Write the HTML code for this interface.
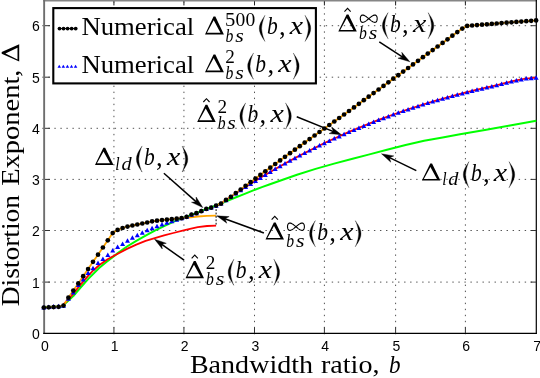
<!DOCTYPE html>
<html><head><meta charset="utf-8"><title>plot</title>
<style>html,body{margin:0;padding:0;background:#fff;overflow:hidden}svg{display:block;will-change:transform}text{fill:#000}</style></head>
<body>
<svg width="540" height="378" viewBox="0 0 540 378">
<rect width="540" height="378" fill="#fff"/>
<line x1="113.93" y1="334.26" x2="113.93" y2="1" stroke="#333" stroke-width="0.85" stroke-dasharray="1.4 4.63"/>
<line x1="42.3" y1="282.10" x2="536.5" y2="282.10" stroke="#333" stroke-width="0.85" stroke-dasharray="1.4 4.63"/>
<line x1="183.93" y1="334.26" x2="183.93" y2="1" stroke="#333" stroke-width="0.85" stroke-dasharray="1.4 4.63"/>
<line x1="42.3" y1="230.50" x2="536.5" y2="230.50" stroke="#333" stroke-width="0.85" stroke-dasharray="1.4 4.63"/>
<line x1="254.50" y1="334.26" x2="254.50" y2="1" stroke="#333" stroke-width="0.85" stroke-dasharray="1.4 4.63"/>
<line x1="42.3" y1="179.40" x2="536.5" y2="179.40" stroke="#333" stroke-width="0.85" stroke-dasharray="1.4 4.63"/>
<line x1="324.40" y1="334.26" x2="324.40" y2="1" stroke="#333" stroke-width="0.85" stroke-dasharray="1.4 4.63"/>
<line x1="42.3" y1="128.30" x2="536.5" y2="128.30" stroke="#333" stroke-width="0.85" stroke-dasharray="1.4 4.63"/>
<line x1="395.60" y1="334.26" x2="395.60" y2="1" stroke="#333" stroke-width="0.85" stroke-dasharray="1.4 4.63"/>
<line x1="42.3" y1="77.20" x2="536.5" y2="77.20" stroke="#333" stroke-width="0.85" stroke-dasharray="1.4 4.63"/>
<line x1="465.40" y1="334.26" x2="465.40" y2="1" stroke="#333" stroke-width="0.85" stroke-dasharray="1.4 4.63"/>
<line x1="42.3" y1="25.70" x2="536.5" y2="25.70" stroke="#333" stroke-width="0.85" stroke-dasharray="1.4 4.63"/>
<line x1="43.2" y1="0.7" x2="537" y2="0.7" stroke="#868686" stroke-width="1.6"/>
<line x1="44.15" y1="0" x2="44.15" y2="333.8" stroke="#6e6e6e" stroke-width="1.9"/>
<line x1="43.2" y1="333.3" x2="536.9" y2="333.3" stroke="#000" stroke-width="1.25"/>
<line x1="536.3" y1="0" x2="536.3" y2="333.9" stroke="#000" stroke-width="1.2"/>
<line x1="113.93" y1="333" x2="113.93" y2="327.3" stroke="#333" stroke-width="1"/>
<line x1="113.93" y1="1.4" x2="113.93" y2="5.4" stroke="#222" stroke-width="1"/>
<line x1="45" y1="282.10" x2="50" y2="282.10" stroke="#333" stroke-width="1"/>
<line x1="536" y1="282.10" x2="530.6" y2="282.10" stroke="#333" stroke-width="1"/>
<line x1="183.93" y1="333" x2="183.93" y2="327.3" stroke="#333" stroke-width="1"/>
<line x1="183.93" y1="1.4" x2="183.93" y2="5.4" stroke="#222" stroke-width="1"/>
<line x1="45" y1="230.50" x2="50" y2="230.50" stroke="#333" stroke-width="1"/>
<line x1="536" y1="230.50" x2="530.6" y2="230.50" stroke="#333" stroke-width="1"/>
<line x1="254.50" y1="333" x2="254.50" y2="327.3" stroke="#333" stroke-width="1"/>
<line x1="254.50" y1="1.4" x2="254.50" y2="5.4" stroke="#222" stroke-width="1"/>
<line x1="45" y1="179.40" x2="50" y2="179.40" stroke="#333" stroke-width="1"/>
<line x1="536" y1="179.40" x2="530.6" y2="179.40" stroke="#333" stroke-width="1"/>
<line x1="324.40" y1="333" x2="324.40" y2="327.3" stroke="#333" stroke-width="1"/>
<line x1="324.40" y1="1.4" x2="324.40" y2="5.4" stroke="#222" stroke-width="1"/>
<line x1="45" y1="128.30" x2="50" y2="128.30" stroke="#333" stroke-width="1"/>
<line x1="536" y1="128.30" x2="530.6" y2="128.30" stroke="#333" stroke-width="1"/>
<line x1="395.60" y1="333" x2="395.60" y2="327.3" stroke="#333" stroke-width="1"/>
<line x1="395.60" y1="1.4" x2="395.60" y2="5.4" stroke="#222" stroke-width="1"/>
<line x1="45" y1="77.20" x2="50" y2="77.20" stroke="#333" stroke-width="1"/>
<line x1="536" y1="77.20" x2="530.6" y2="77.20" stroke="#333" stroke-width="1"/>
<line x1="465.40" y1="333" x2="465.40" y2="327.3" stroke="#333" stroke-width="1"/>
<line x1="465.40" y1="1.4" x2="465.40" y2="5.4" stroke="#222" stroke-width="1"/>
<line x1="45" y1="25.70" x2="50" y2="25.70" stroke="#333" stroke-width="1"/>
<line x1="536" y1="25.70" x2="530.6" y2="25.70" stroke="#333" stroke-width="1"/>
<text x="45.00" y="351.0" font-family="Liberation Sans, sans-serif" font-size="14" text-anchor="middle">0</text>
<text x="114.73" y="351.0" font-family="Liberation Sans, sans-serif" font-size="14" text-anchor="middle">1</text>
<text x="184.73" y="351.0" font-family="Liberation Sans, sans-serif" font-size="14" text-anchor="middle">2</text>
<text x="255.30" y="351.0" font-family="Liberation Sans, sans-serif" font-size="14" text-anchor="middle">3</text>
<text x="325.20" y="351.0" font-family="Liberation Sans, sans-serif" font-size="14" text-anchor="middle">4</text>
<text x="396.40" y="351.0" font-family="Liberation Sans, sans-serif" font-size="14" text-anchor="middle">5</text>
<text x="466.20" y="351.0" font-family="Liberation Sans, sans-serif" font-size="14" text-anchor="middle">6</text>
<text x="537.10" y="351.0" font-family="Liberation Sans, sans-serif" font-size="14" text-anchor="middle">7</text>
<text x="39.8" y="338.80" font-family="Liberation Sans, sans-serif" font-size="14" text-anchor="end">0</text>
<text x="39.8" y="287.60" font-family="Liberation Sans, sans-serif" font-size="14" text-anchor="end">1</text>
<text x="39.8" y="236.00" font-family="Liberation Sans, sans-serif" font-size="14" text-anchor="end">2</text>
<text x="39.8" y="184.90" font-family="Liberation Sans, sans-serif" font-size="14" text-anchor="end">3</text>
<text x="39.8" y="133.80" font-family="Liberation Sans, sans-serif" font-size="14" text-anchor="end">4</text>
<text x="39.8" y="82.70" font-family="Liberation Sans, sans-serif" font-size="14" text-anchor="end">5</text>
<text x="39.8" y="31.20" font-family="Liberation Sans, sans-serif" font-size="14" text-anchor="end">6</text>
<path d="M43.6 307.4 L61.5 306.6 L64.0 304.5 L68.0 301.0 L73.3 296.1 L78.0 290.5 L88.3 278.9 L99.4 267.8 L106.1 262.2 L114.0 256.3 L117.8 253.0 L127.0 246.5 L136.3 240.9 L145.6 235.7 L154.8 230.7 L164.1 226.1 L173.3 221.9 L182.6 218.1 L190.0 215.4 L195.9 213.3 L201.1 211.1 L205.7 209.2 L210.7 207.4 L215.7 205.6 L220.7 203.5 L225.6 201.5 L234.8 197.8 L244.1 194.1 L253.3 190.4 L262.6 186.9 L270.0 184.2 L278.5 181.2 L297.0 174.8 L315.6 168.9 L334.1 163.6 L352.6 158.7 L368.5 154.6 L387.0 149.8 L405.6 145.0 L424.1 140.8 L442.6 137.4 L460.0 134.3 L486.3 129.8 L510.0 125.5 L536.3 120.7" fill="none" stroke="#00ff00" stroke-width="2" stroke-linejoin="round" />
<path d="M61.5 306.6 L64.0 303.9 L68.0 299.6 L71.7 295.6 L80.0 285.3 L88.3 275.6 L93.5 270.2 L99.4 265.0 L107.6 259.3 L117.8 253.7 L127.0 248.9 L136.3 244.6 L145.6 240.9 L154.8 238.1 L164.1 235.4 L173.3 233.0 L182.6 230.7 L190.0 228.9 L197.8 227.2 L207.0 226.0 L216.1 225.6" fill="none" stroke="#ff0000" stroke-width="1.8" stroke-linejoin="round" />
<path d="M216.1 205.6 L221.0 203.4 L226.0 200.0 L230.9 196.7 L235.8 193.4 L240.7 190.1 L245.6 187.0 L250.6 183.8 L255.5 180.8 L260.4 177.7 L265.3 174.8 L270.3 171.9 L275.2 169.0 L280.1 166.2 L285.0 163.4 L290.0 160.7 L294.9 158.1 L299.8 155.5 L304.7 152.9 L309.6 150.4 L314.6 147.9 L319.5 145.5 L324.4 143.1 L329.3 140.8 L334.3 138.5 L339.2 136.3 L344.1 134.1 L349.0 131.9 L354.0 129.8 L358.9 127.8 L363.8 125.8 L368.7 123.8 L373.6 121.8 L378.6 119.9 L383.5 118.1 L388.4 116.2 L393.3 114.5 L398.3 112.7 L403.2 111.0 L408.1 109.3 L413.0 107.7 L418.0 106.1 L422.9 104.5 L427.8 103.0 L432.7 101.5 L437.6 100.1 L442.6 98.7 L447.5 97.3 L452.4 96.0 L457.3 94.6 L462.3 93.4 L467.2 92.1 L472.1 90.9 L477.0 89.7 L482.0 88.5 L486.9 87.4 L491.8 86.3 L496.7 85.2 L501.6 83.9 L506.6 82.6 L511.5 81.4 L516.4 80.3 L521.3 79.4 L526.3 78.5 L531.2 78.1 L536.1 77.7" fill="none" stroke="#ff0000" stroke-width="1.7" stroke-linejoin="round" />
<path d="M43.8 307.6 L48.7 307.3 L53.6 307.1 L58.6 306.8 L63.5 305.6 L68.4 297.7 L73.3 290.6 L78.3 283.4 L83.2 276.2 L88.1 269.0 L93.0 261.8 L98.0 254.7 L102.9 247.5 L107.8 240.3 L112.7 233.1 L117.6 229.9 L122.6 228.0 L127.5 226.6 L132.4 225.5 L137.3 224.5 L142.3 223.5 L147.2 222.5 L152.1 221.3 L157.0 220.7 L162.0 220.1 L166.9 219.7 L171.8 219.2 L176.7 218.7 L181.6 218.2 L181.3 218.1 L188.5 217.6 L197.8 216.5 L207.0 215.8 L216.1 215.6" fill="none" stroke="#ffa500" stroke-width="1.8" stroke-linejoin="round" />
<path d="M216.1 205.6 L221.0 203.7 L226.0 199.9 L230.9 196.8 L235.8 193.1 L240.7 189.5 L245.6 185.8 L250.6 182.2 L255.5 178.6 L260.4 174.9 L265.3 171.3 L270.3 167.7 L275.2 164.0 L280.1 160.4 L285.0 156.8 L290.0 153.2 L294.9 149.7 L299.8 146.2 L304.7 142.6 L309.6 139.1 L314.6 135.5 L319.5 132.0 L324.4 128.5 L329.3 125.0 L334.3 121.5 L339.2 118.0 L344.1 114.5 L349.0 111.0 L354.0 107.4 L358.9 103.8 L363.8 100.2 L368.7 96.7 L373.6 93.1 L378.6 89.5 L383.5 85.9 L388.4 82.3 L393.3 78.7 L398.3 75.2 L403.2 71.6 L408.1 68.0 L413.0 64.4 L418.0 60.8 L422.9 57.2 L427.8 53.6 L432.7 50.1 L437.6 46.5 L442.6 42.9 L447.5 39.3 L452.4 35.7 L457.3 32.1 L462.3 28.6 L467.2 25.9 L472.1 25.5 L477.0 25.1 L482.0 24.7 L486.9 24.3 L491.8 23.9 L496.7 23.5 L501.6 23.1 L506.6 22.7 L511.5 22.3 L516.4 21.9 L521.3 21.6 L526.3 21.2 L531.2 20.8 L536.1 20.4" fill="none" stroke="#ffa500" stroke-width="1.8" stroke-linejoin="round" />
<line x1="216.1" y1="205.8" x2="216.1" y2="225.6" stroke="#000" stroke-width="1" stroke-dasharray="1.8 1.6"/>
<path d="M41.3 309.5 L46.3 309.5 L43.8 305.0 Z" fill="#0000ff"/>
<path d="M46.2 309.1 L51.2 309.1 L48.7 304.6 Z" fill="#0000ff"/>
<path d="M51.1 308.6 L56.1 308.6 L53.6 304.1 Z" fill="#0000ff"/>
<path d="M56.1 308.2 L61.1 308.2 L58.6 303.7 Z" fill="#0000ff"/>
<path d="M61.0 307.7 L66.0 307.7 L63.5 303.2 Z" fill="#0000ff"/>
<path d="M65.9 300.7 L70.9 300.7 L68.4 296.2 Z" fill="#0000ff"/>
<path d="M70.8 294.6 L75.8 294.6 L73.3 290.1 Z" fill="#0000ff"/>
<path d="M75.8 287.0 L80.8 287.0 L78.3 282.5 Z" fill="#0000ff"/>
<path d="M80.7 281.6 L85.7 281.6 L83.2 277.1 Z" fill="#0000ff"/>
<path d="M85.6 275.1 L90.6 275.1 L88.1 270.6 Z" fill="#0000ff"/>
<path d="M90.5 270.2 L95.5 270.2 L93.0 265.7 Z" fill="#0000ff"/>
<path d="M95.5 265.0 L100.5 265.0 L98.0 260.5 Z" fill="#0000ff"/>
<path d="M100.4 261.1 L105.4 261.1 L102.9 256.6 Z" fill="#0000ff"/>
<path d="M105.3 257.1 L110.3 257.1 L107.8 252.6 Z" fill="#0000ff"/>
<path d="M110.2 252.6 L115.2 252.6 L112.7 248.1 Z" fill="#0000ff"/>
<path d="M115.1 249.0 L120.1 249.0 L117.6 244.5 Z" fill="#0000ff"/>
<path d="M120.1 246.0 L125.1 246.0 L122.6 241.5 Z" fill="#0000ff"/>
<path d="M125.0 242.8 L130.0 242.8 L127.5 238.3 Z" fill="#0000ff"/>
<path d="M129.9 239.8 L134.9 239.8 L132.4 235.3 Z" fill="#0000ff"/>
<path d="M134.8 237.2 L139.8 237.2 L137.3 232.7 Z" fill="#0000ff"/>
<path d="M139.8 234.8 L144.8 234.8 L142.3 230.3 Z" fill="#0000ff"/>
<path d="M144.7 232.2 L149.7 232.2 L147.2 227.7 Z" fill="#0000ff"/>
<path d="M149.6 230.2 L154.6 230.2 L152.1 225.7 Z" fill="#0000ff"/>
<path d="M154.5 228.2 L159.5 228.2 L157.0 223.7 Z" fill="#0000ff"/>
<path d="M159.5 226.4 L164.5 226.4 L162.0 221.9 Z" fill="#0000ff"/>
<path d="M164.4 224.8 L169.4 224.8 L166.9 220.3 Z" fill="#0000ff"/>
<path d="M169.3 223.3 L174.3 223.3 L171.8 218.8 Z" fill="#0000ff"/>
<path d="M174.2 221.7 L179.2 221.7 L176.7 217.2 Z" fill="#0000ff"/>
<path d="M179.1 220.3 L184.1 220.3 L181.6 215.8 Z" fill="#0000ff"/>
<path d="M184.1 218.8 L189.1 218.8 L186.6 214.3 Z" fill="#0000ff"/>
<path d="M189.0 216.7 L194.0 216.7 L191.5 212.2 Z" fill="#0000ff"/>
<path d="M193.9 215.2 L198.9 215.2 L196.4 210.7 Z" fill="#0000ff"/>
<path d="M198.8 213.1 L203.8 213.1 L201.3 208.6 Z" fill="#0000ff"/>
<path d="M203.8 211.1 L208.8 211.1 L206.3 206.6 Z" fill="#0000ff"/>
<path d="M208.7 209.5 L213.7 209.5 L211.2 205.0 Z" fill="#0000ff"/>
<path d="M213.6 207.7 L218.6 207.7 L216.1 203.2 Z" fill="#0000ff"/>
<path d="M218.5 205.6 L223.5 205.6 L221.0 201.1 Z" fill="#0000ff"/>
<path d="M223.5 202.2 L228.5 202.2 L226.0 197.7 Z" fill="#0000ff"/>
<path d="M228.4 198.8 L233.4 198.8 L230.9 194.3 Z" fill="#0000ff"/>
<path d="M233.3 195.5 L238.3 195.5 L235.8 191.0 Z" fill="#0000ff"/>
<path d="M238.2 192.3 L243.2 192.3 L240.7 187.8 Z" fill="#0000ff"/>
<path d="M243.1 189.1 L248.1 189.1 L245.6 184.6 Z" fill="#0000ff"/>
<path d="M248.1 186.0 L253.1 186.0 L250.6 181.5 Z" fill="#0000ff"/>
<path d="M253.0 182.9 L258.0 182.9 L255.5 178.4 Z" fill="#0000ff"/>
<path d="M257.9 179.9 L262.9 179.9 L260.4 175.4 Z" fill="#0000ff"/>
<path d="M262.8 176.9 L267.8 176.9 L265.3 172.4 Z" fill="#0000ff"/>
<path d="M267.8 174.0 L272.8 174.0 L270.3 169.5 Z" fill="#0000ff"/>
<path d="M272.7 171.1 L277.7 171.1 L275.2 166.6 Z" fill="#0000ff"/>
<path d="M277.6 168.3 L282.6 168.3 L280.1 163.8 Z" fill="#0000ff"/>
<path d="M282.5 165.6 L287.5 165.6 L285.0 161.1 Z" fill="#0000ff"/>
<path d="M287.5 162.8 L292.5 162.8 L290.0 158.3 Z" fill="#0000ff"/>
<path d="M292.4 160.2 L297.4 160.2 L294.9 155.7 Z" fill="#0000ff"/>
<path d="M297.3 157.6 L302.3 157.6 L299.8 153.1 Z" fill="#0000ff"/>
<path d="M302.2 155.0 L307.2 155.0 L304.7 150.5 Z" fill="#0000ff"/>
<path d="M307.1 152.5 L312.1 152.5 L309.6 148.0 Z" fill="#0000ff"/>
<path d="M312.1 150.0 L317.1 150.0 L314.6 145.5 Z" fill="#0000ff"/>
<path d="M317.0 147.6 L322.0 147.6 L319.5 143.1 Z" fill="#0000ff"/>
<path d="M321.9 145.3 L326.9 145.3 L324.4 140.8 Z" fill="#0000ff"/>
<path d="M326.8 142.9 L331.8 142.9 L329.3 138.4 Z" fill="#0000ff"/>
<path d="M331.8 140.6 L336.8 140.6 L334.3 136.1 Z" fill="#0000ff"/>
<path d="M336.7 138.4 L341.7 138.4 L339.2 133.9 Z" fill="#0000ff"/>
<path d="M341.6 136.2 L346.6 136.2 L344.1 131.7 Z" fill="#0000ff"/>
<path d="M346.5 134.1 L351.5 134.1 L349.0 129.6 Z" fill="#0000ff"/>
<path d="M351.5 132.0 L356.5 132.0 L354.0 127.5 Z" fill="#0000ff"/>
<path d="M356.4 129.9 L361.4 129.9 L358.9 125.4 Z" fill="#0000ff"/>
<path d="M361.3 127.9 L366.3 127.9 L363.8 123.4 Z" fill="#0000ff"/>
<path d="M366.2 125.9 L371.2 125.9 L368.7 121.4 Z" fill="#0000ff"/>
<path d="M371.1 124.0 L376.1 124.0 L373.6 119.5 Z" fill="#0000ff"/>
<path d="M376.1 122.1 L381.1 122.1 L378.6 117.6 Z" fill="#0000ff"/>
<path d="M381.0 120.2 L386.0 120.2 L383.5 115.7 Z" fill="#0000ff"/>
<path d="M385.9 118.4 L390.9 118.4 L388.4 113.9 Z" fill="#0000ff"/>
<path d="M390.8 116.6 L395.8 116.6 L393.3 112.1 Z" fill="#0000ff"/>
<path d="M395.8 114.8 L400.8 114.8 L398.3 110.3 Z" fill="#0000ff"/>
<path d="M400.7 113.1 L405.7 113.1 L403.2 108.6 Z" fill="#0000ff"/>
<path d="M405.6 111.5 L410.6 111.5 L408.1 107.0 Z" fill="#0000ff"/>
<path d="M410.5 109.8 L415.5 109.8 L413.0 105.3 Z" fill="#0000ff"/>
<path d="M415.5 108.2 L420.5 108.2 L418.0 103.7 Z" fill="#0000ff"/>
<path d="M420.4 106.6 L425.4 106.6 L422.9 102.1 Z" fill="#0000ff"/>
<path d="M425.3 105.1 L430.3 105.1 L427.8 100.6 Z" fill="#0000ff"/>
<path d="M430.2 103.6 L435.2 103.6 L432.7 99.1 Z" fill="#0000ff"/>
<path d="M435.1 102.2 L440.1 102.2 L437.6 97.7 Z" fill="#0000ff"/>
<path d="M440.1 100.8 L445.1 100.8 L442.6 96.3 Z" fill="#0000ff"/>
<path d="M445.0 99.4 L450.0 99.4 L447.5 94.9 Z" fill="#0000ff"/>
<path d="M449.9 98.1 L454.9 98.1 L452.4 93.6 Z" fill="#0000ff"/>
<path d="M454.8 96.8 L459.8 96.8 L457.3 92.3 Z" fill="#0000ff"/>
<path d="M459.8 95.5 L464.8 95.5 L462.3 91.0 Z" fill="#0000ff"/>
<path d="M464.7 94.2 L469.7 94.2 L467.2 89.7 Z" fill="#0000ff"/>
<path d="M469.6 93.0 L474.6 93.0 L472.1 88.5 Z" fill="#0000ff"/>
<path d="M474.5 91.8 L479.5 91.8 L477.0 87.3 Z" fill="#0000ff"/>
<path d="M479.5 90.7 L484.5 90.7 L482.0 86.2 Z" fill="#0000ff"/>
<path d="M484.4 89.5 L489.4 89.5 L486.9 85.0 Z" fill="#0000ff"/>
<path d="M489.3 88.4 L494.3 88.4 L491.8 83.9 Z" fill="#0000ff"/>
<path d="M494.2 87.3 L499.2 87.3 L496.7 82.8 Z" fill="#0000ff"/>
<path d="M499.1 86.0 L504.1 86.0 L501.6 81.5 Z" fill="#0000ff"/>
<path d="M504.1 84.7 L509.1 84.7 L506.6 80.2 Z" fill="#0000ff"/>
<path d="M509.0 83.5 L514.0 83.5 L511.5 79.0 Z" fill="#0000ff"/>
<path d="M513.9 82.5 L518.9 82.5 L516.4 78.0 Z" fill="#0000ff"/>
<path d="M518.8 81.5 L523.8 81.5 L521.3 77.0 Z" fill="#0000ff"/>
<path d="M523.8 80.6 L528.8 80.6 L526.3 76.1 Z" fill="#0000ff"/>
<path d="M528.7 80.2 L533.7 80.2 L531.2 75.7 Z" fill="#0000ff"/>
<path d="M533.6 79.8 L538.6 79.8 L536.1 75.3 Z" fill="#0000ff"/>
<circle cx="43.8" cy="307.6" r="2.35" fill="#000"/>
<circle cx="48.7" cy="307.3" r="2.35" fill="#000"/>
<circle cx="53.6" cy="307.1" r="2.35" fill="#000"/>
<circle cx="58.6" cy="306.8" r="2.35" fill="#000"/>
<circle cx="63.5" cy="305.6" r="2.35" fill="#000"/>
<circle cx="68.4" cy="297.7" r="2.35" fill="#000"/>
<circle cx="73.3" cy="290.6" r="2.35" fill="#000"/>
<circle cx="78.3" cy="283.4" r="2.35" fill="#000"/>
<circle cx="83.2" cy="276.2" r="2.35" fill="#000"/>
<circle cx="88.1" cy="269.0" r="2.35" fill="#000"/>
<circle cx="93.0" cy="261.8" r="2.35" fill="#000"/>
<circle cx="98.0" cy="254.7" r="2.35" fill="#000"/>
<circle cx="102.9" cy="247.5" r="2.35" fill="#000"/>
<circle cx="107.8" cy="240.3" r="2.35" fill="#000"/>
<circle cx="112.7" cy="233.1" r="2.35" fill="#000"/>
<circle cx="117.6" cy="229.9" r="2.35" fill="#000"/>
<circle cx="122.6" cy="228.0" r="2.35" fill="#000"/>
<circle cx="127.5" cy="226.6" r="2.35" fill="#000"/>
<circle cx="132.4" cy="225.5" r="2.35" fill="#000"/>
<circle cx="137.3" cy="224.5" r="2.35" fill="#000"/>
<circle cx="142.3" cy="223.5" r="2.35" fill="#000"/>
<circle cx="147.2" cy="222.5" r="2.35" fill="#000"/>
<circle cx="152.1" cy="221.3" r="2.35" fill="#000"/>
<circle cx="157.0" cy="220.7" r="2.35" fill="#000"/>
<circle cx="162.0" cy="220.1" r="2.35" fill="#000"/>
<circle cx="166.9" cy="219.7" r="2.35" fill="#000"/>
<circle cx="171.8" cy="219.2" r="2.35" fill="#000"/>
<circle cx="176.7" cy="218.7" r="2.35" fill="#000"/>
<circle cx="181.6" cy="218.2" r="2.35" fill="#000"/>
<circle cx="186.6" cy="216.8" r="2.35" fill="#000"/>
<circle cx="191.5" cy="214.5" r="2.35" fill="#000"/>
<circle cx="196.4" cy="213.2" r="2.35" fill="#000"/>
<circle cx="201.3" cy="211.2" r="2.35" fill="#000"/>
<circle cx="206.3" cy="208.9" r="2.35" fill="#000"/>
<circle cx="211.2" cy="207.7" r="2.35" fill="#000"/>
<circle cx="216.1" cy="205.6" r="2.35" fill="#000"/>
<circle cx="221.0" cy="203.7" r="2.35" fill="#000"/>
<circle cx="226.0" cy="199.9" r="2.35" fill="#000"/>
<circle cx="230.9" cy="196.8" r="2.35" fill="#000"/>
<circle cx="235.8" cy="193.1" r="2.35" fill="#000"/>
<circle cx="240.7" cy="189.5" r="2.35" fill="#000"/>
<circle cx="245.6" cy="185.8" r="2.35" fill="#000"/>
<circle cx="250.6" cy="182.2" r="2.35" fill="#000"/>
<circle cx="255.5" cy="178.6" r="2.35" fill="#000"/>
<circle cx="260.4" cy="174.9" r="2.35" fill="#000"/>
<circle cx="265.3" cy="171.3" r="2.35" fill="#000"/>
<circle cx="270.3" cy="167.7" r="2.35" fill="#000"/>
<circle cx="275.2" cy="164.0" r="2.35" fill="#000"/>
<circle cx="280.1" cy="160.4" r="2.35" fill="#000"/>
<circle cx="285.0" cy="156.8" r="2.35" fill="#000"/>
<circle cx="290.0" cy="153.2" r="2.35" fill="#000"/>
<circle cx="294.9" cy="149.7" r="2.35" fill="#000"/>
<circle cx="299.8" cy="146.2" r="2.35" fill="#000"/>
<circle cx="304.7" cy="142.6" r="2.35" fill="#000"/>
<circle cx="309.6" cy="139.1" r="2.35" fill="#000"/>
<circle cx="314.6" cy="135.5" r="2.35" fill="#000"/>
<circle cx="319.5" cy="132.0" r="2.35" fill="#000"/>
<circle cx="324.4" cy="128.5" r="2.35" fill="#000"/>
<circle cx="329.3" cy="125.0" r="2.35" fill="#000"/>
<circle cx="334.3" cy="121.5" r="2.35" fill="#000"/>
<circle cx="339.2" cy="118.0" r="2.35" fill="#000"/>
<circle cx="344.1" cy="114.5" r="2.35" fill="#000"/>
<circle cx="349.0" cy="111.0" r="2.35" fill="#000"/>
<circle cx="354.0" cy="107.4" r="2.35" fill="#000"/>
<circle cx="358.9" cy="103.8" r="2.35" fill="#000"/>
<circle cx="363.8" cy="100.2" r="2.35" fill="#000"/>
<circle cx="368.7" cy="96.7" r="2.35" fill="#000"/>
<circle cx="373.6" cy="93.1" r="2.35" fill="#000"/>
<circle cx="378.6" cy="89.5" r="2.35" fill="#000"/>
<circle cx="383.5" cy="85.9" r="2.35" fill="#000"/>
<circle cx="388.4" cy="82.3" r="2.35" fill="#000"/>
<circle cx="393.3" cy="78.7" r="2.35" fill="#000"/>
<circle cx="398.3" cy="75.2" r="2.35" fill="#000"/>
<circle cx="403.2" cy="71.6" r="2.35" fill="#000"/>
<circle cx="408.1" cy="68.0" r="2.35" fill="#000"/>
<circle cx="413.0" cy="64.4" r="2.35" fill="#000"/>
<circle cx="418.0" cy="60.8" r="2.35" fill="#000"/>
<circle cx="422.9" cy="57.2" r="2.35" fill="#000"/>
<circle cx="427.8" cy="53.6" r="2.35" fill="#000"/>
<circle cx="432.7" cy="50.1" r="2.35" fill="#000"/>
<circle cx="437.6" cy="46.5" r="2.35" fill="#000"/>
<circle cx="442.6" cy="42.9" r="2.35" fill="#000"/>
<circle cx="447.5" cy="39.3" r="2.35" fill="#000"/>
<circle cx="452.4" cy="35.7" r="2.35" fill="#000"/>
<circle cx="457.3" cy="32.1" r="2.35" fill="#000"/>
<circle cx="462.3" cy="28.6" r="2.35" fill="#000"/>
<circle cx="467.2" cy="25.9" r="2.35" fill="#000"/>
<circle cx="472.1" cy="25.5" r="2.35" fill="#000"/>
<circle cx="477.0" cy="25.1" r="2.35" fill="#000"/>
<circle cx="482.0" cy="24.7" r="2.35" fill="#000"/>
<circle cx="486.9" cy="24.3" r="2.35" fill="#000"/>
<circle cx="491.8" cy="23.9" r="2.35" fill="#000"/>
<circle cx="496.7" cy="23.5" r="2.35" fill="#000"/>
<circle cx="501.6" cy="23.1" r="2.35" fill="#000"/>
<circle cx="506.6" cy="22.7" r="2.35" fill="#000"/>
<circle cx="511.5" cy="22.3" r="2.35" fill="#000"/>
<circle cx="516.4" cy="21.9" r="2.35" fill="#000"/>
<circle cx="521.3" cy="21.6" r="2.35" fill="#000"/>
<circle cx="526.3" cy="21.2" r="2.35" fill="#000"/>
<circle cx="531.2" cy="20.8" r="2.35" fill="#000"/>
<circle cx="536.1" cy="20.4" r="2.35" fill="#000"/>
<rect x="53.3" y="8.1" width="262.6" height="75.3" fill="#fff" stroke="#000" stroke-width="2.1"/>
<line x1="59.3" y1="28.6" x2="75.5" y2="28.6" stroke="#000" stroke-width="1"/>
<circle cx="59.50" cy="28.6" r="1.9" fill="#000"/>
<circle cx="63.55" cy="28.6" r="1.9" fill="#000"/>
<circle cx="67.60" cy="28.6" r="1.9" fill="#000"/>
<circle cx="71.65" cy="28.6" r="1.9" fill="#000"/>
<circle cx="75.70" cy="28.6" r="1.9" fill="#000"/>
<path d="M57.5 67.8 L61.0 67.8 L59.2 64.7 Z" fill="#0000ff"/>
<path d="M61.6 67.8 L65.1 67.8 L63.3 64.7 Z" fill="#0000ff"/>
<path d="M65.7 67.8 L69.2 67.8 L67.4 64.7 Z" fill="#0000ff"/>
<path d="M69.8 67.8 L73.2 67.8 L71.5 64.7 Z" fill="#0000ff"/>
<path d="M73.8 67.8 L77.3 67.8 L75.6 64.7 Z" fill="#0000ff"/>
<text x="81.4" y="34.6" font-family="Liberation Serif, serif" font-size="25.4" textLength="112.8" lengthAdjust="spacingAndGlyphs">Numerical</text>
<text x="81.4" y="72.5" font-family="Liberation Serif, serif" font-size="25.4" textLength="112.8" lengthAdjust="spacingAndGlyphs">Numerical</text>
<path d="M205.00 34.40 L213.55 16.60 L215.35 16.60 L223.90 34.40 Z M206.95 32.70 L213.70 20.30 L220.45 32.70 Z" fill="#000" fill-rule="evenodd"/>
<text transform="translate(226.30 25.70) scale(1.145 1)" x="-1.05" y="0" font-family="Liberation Serif, serif" font-size="18.00">5</text>
<text transform="translate(236.30 25.70) scale(1.088 1)" x="-0.69" y="0" font-family="Liberation Serif, serif" font-size="18.00">0</text>
<text transform="translate(246.30 25.70) scale(1.088 1)" x="-0.69" y="0" font-family="Liberation Serif, serif" font-size="18.00">0</text>
<text transform="translate(226.10 41.50) scale(0.873 1)" x="-0.67" y="0" font-family="Liberation Serif, serif" font-size="18.00" font-style="italic">b</text>
<text transform="translate(235.40 41.50) scale(1.218 1)" x="-0.22" y="0" font-family="Liberation Serif, serif" font-size="18.00" font-style="italic">s</text>
<path d="M265.10 15.50 Q259.00 23.45 259.30 28.45 Q259.00 33.45 265.10 41.40 L264.60 41.10 Q261.70 33.45 261.60 28.45 Q261.70 23.45 264.60 15.80 Z" fill="#000" stroke="#000" stroke-width="0.3"/>
<text transform="translate(267.70 34.40) scale(0.827 1)" x="-0.96" y="0" font-family="Liberation Serif, serif" font-size="26.00" font-style="italic">b</text>
<text transform="translate(280.00 35.40) scale(1.000 1)" x="-1.01" y="0" font-family="Liberation Serif, serif" font-size="26.50">,</text>
<text transform="translate(289.50 34.40) scale(1.157 1)" x="0.32" y="0" font-family="Liberation Serif, serif" font-size="26.00" font-style="italic">x</text>
<path d="M304.90 15.50 Q311.00 23.45 310.70 28.45 Q311.00 33.45 304.90 41.40 L305.40 41.10 Q308.30 33.45 308.40 28.45 Q308.30 23.45 305.40 15.80 Z" fill="#000" stroke="#000" stroke-width="0.3"/>
<path d="M205.00 72.20 L213.55 54.40 L215.35 54.40 L223.90 72.20 Z M206.95 70.50 L213.70 58.10 L220.45 70.50 Z" fill="#000" fill-rule="evenodd"/>
<text transform="translate(226.20 63.30) scale(1.067 1)" x="-0.79" y="0" font-family="Liberation Serif, serif" font-size="18.00">2</text>
<text transform="translate(226.10 79.30) scale(0.873 1)" x="-0.67" y="0" font-family="Liberation Serif, serif" font-size="18.00" font-style="italic">b</text>
<text transform="translate(235.40 79.30) scale(1.218 1)" x="-0.22" y="0" font-family="Liberation Serif, serif" font-size="18.00" font-style="italic">s</text>
<path d="M253.50 53.30 Q247.40 61.25 247.70 66.25 Q247.40 71.25 253.50 79.20 L253.00 78.90 Q250.10 71.25 250.00 66.25 Q250.10 61.25 253.00 53.60 Z" fill="#000" stroke="#000" stroke-width="0.3"/>
<text transform="translate(256.10 72.20) scale(0.827 1)" x="-0.96" y="0" font-family="Liberation Serif, serif" font-size="26.00" font-style="italic">b</text>
<text transform="translate(268.40 73.20) scale(1.000 1)" x="-1.01" y="0" font-family="Liberation Serif, serif" font-size="26.50">,</text>
<text transform="translate(277.90 72.20) scale(1.157 1)" x="0.32" y="0" font-family="Liberation Serif, serif" font-size="26.00" font-style="italic">x</text>
<path d="M293.30 53.30 Q299.40 61.25 299.10 66.25 Q299.40 71.25 293.30 79.20 L293.80 78.90 Q296.70 71.25 296.80 66.25 Q296.70 61.25 293.80 53.60 Z" fill="#000" stroke="#000" stroke-width="0.3"/>
<path d="M338.30 31.60 L346.65 14.40 L348.45 14.40 L356.80 31.60 Z M340.25 29.90 L346.80 18.10 L353.35 29.90 Z" fill="#000" fill-rule="evenodd"/>
<path d="M344.45 11.60 L347.55 8.30 L350.65 11.60" fill="none" stroke="#000" stroke-width="1.1" stroke-linejoin="miter"/>
<path d="M377.20 18.70 L377.12 19.74 L376.89 20.67 L376.53 21.42 L376.05 21.95 L375.48 22.25 L374.85 22.35 L374.18 22.26 L373.49 22.04 L372.79 21.71 L372.10 21.30 L371.41 20.83 L370.73 20.33 L370.07 19.80 L369.41 19.25 L368.75 18.70 L368.09 18.15 L367.43 17.60 L366.77 17.07 L366.09 16.57 L365.40 16.10 L364.71 15.69 L364.01 15.36 L363.32 15.14 L362.65 15.05 L362.02 15.15 L361.45 15.45 L360.97 15.98 L360.61 16.73 L360.38 17.66 L360.30 18.70 L360.38 19.74 L360.61 20.67 L360.97 21.42 L361.45 21.95 L362.02 22.25 L362.65 22.35 L363.32 22.26 L364.01 22.04 L364.71 21.71 L365.40 21.30 L366.09 20.83 L366.77 20.33 L367.43 19.80 L368.09 19.25 L368.75 18.70 L369.41 18.15 L370.07 17.60 L370.73 17.07 L371.41 16.57 L372.10 16.10 L372.79 15.69 L373.49 15.36 L374.18 15.14 L374.85 15.05 L375.48 15.15 L376.05 15.45 L376.53 15.98 L376.89 16.73 L377.12 17.66 L377.20 18.70 Z" fill="none" stroke="#000" stroke-width="1.1"/>
<text transform="translate(359.70 38.90) scale(0.873 1)" x="-0.67" y="0" font-family="Liberation Serif, serif" font-size="18.00" font-style="italic">b</text>
<text transform="translate(369.00 38.90) scale(1.218 1)" x="-0.22" y="0" font-family="Liberation Serif, serif" font-size="18.00" font-style="italic">s</text>
<path d="M388.20 12.70 Q382.10 20.65 382.40 25.65 Q382.10 30.65 388.20 38.60 L387.70 38.30 Q384.80 30.65 384.70 25.65 Q384.80 20.65 387.70 13.00 Z" fill="#000" stroke="#000" stroke-width="0.3"/>
<text transform="translate(390.80 31.60) scale(0.827 1)" x="-0.96" y="0" font-family="Liberation Serif, serif" font-size="26.00" font-style="italic">b</text>
<text transform="translate(403.10 32.60) scale(1.000 1)" x="-1.01" y="0" font-family="Liberation Serif, serif" font-size="26.50">,</text>
<text transform="translate(412.60 31.60) scale(1.157 1)" x="0.32" y="0" font-family="Liberation Serif, serif" font-size="26.00" font-style="italic">x</text>
<path d="M428.00 12.70 Q434.10 20.65 433.80 25.65 Q434.10 30.65 428.00 38.60 L428.50 38.30 Q431.40 30.65 431.50 25.65 Q431.40 20.65 428.50 13.00 Z" fill="#000" stroke="#000" stroke-width="0.3"/>
<line x1="379.30" y1="41.80" x2="403.87" y2="57.86" stroke="#000" stroke-width="1.5"/>
<path d="M409.90 61.80 L397.94 58.16 L402.47 56.94 L401.77 52.31 Z" fill="#000" stroke="#000" stroke-width="0.4" stroke-linejoin="miter"/>
<path d="M197.20 122.00 L205.55 104.80 L207.35 104.80 L215.70 122.00 Z M199.15 120.30 L205.70 108.50 L212.25 120.30 Z" fill="#000" fill-rule="evenodd"/>
<path d="M203.35 102.00 L206.45 98.70 L209.55 102.00" fill="none" stroke="#000" stroke-width="1.1" stroke-linejoin="miter"/>
<text transform="translate(218.40 113.10) scale(1.067 1)" x="-0.79" y="0" font-family="Liberation Serif, serif" font-size="18.00">2</text>
<text transform="translate(218.30 129.10) scale(0.873 1)" x="-0.67" y="0" font-family="Liberation Serif, serif" font-size="18.00" font-style="italic">b</text>
<text transform="translate(227.60 129.10) scale(1.218 1)" x="-0.22" y="0" font-family="Liberation Serif, serif" font-size="18.00" font-style="italic">s</text>
<path d="M245.70 103.10 Q239.60 111.05 239.90 116.05 Q239.60 121.05 245.70 129.00 L245.20 128.70 Q242.30 121.05 242.20 116.05 Q242.30 111.05 245.20 103.40 Z" fill="#000" stroke="#000" stroke-width="0.3"/>
<text transform="translate(248.30 122.00) scale(0.827 1)" x="-0.96" y="0" font-family="Liberation Serif, serif" font-size="26.00" font-style="italic">b</text>
<text transform="translate(260.60 123.00) scale(1.000 1)" x="-1.01" y="0" font-family="Liberation Serif, serif" font-size="26.50">,</text>
<text transform="translate(270.10 122.00) scale(1.157 1)" x="0.32" y="0" font-family="Liberation Serif, serif" font-size="26.00" font-style="italic">x</text>
<path d="M285.50 103.10 Q291.60 111.05 291.30 116.05 Q291.60 121.05 285.50 129.00 L286.00 128.70 Q288.90 121.05 289.00 116.05 Q288.90 111.05 286.00 103.40 Z" fill="#000" stroke="#000" stroke-width="0.3"/>
<line x1="296.70" y1="116.70" x2="334.82" y2="132.10" stroke="#000" stroke-width="1.5"/>
<path d="M341.50 134.80 L329.06 133.55 L333.27 131.47 L331.68 127.06 Z" fill="#000" stroke="#000" stroke-width="0.4" stroke-linejoin="miter"/>
<path d="M95.00 165.00 L103.35 147.80 L105.15 147.80 L113.50 165.00 Z M96.95 163.30 L103.50 151.50 L110.05 163.30 Z" fill="#000" fill-rule="evenodd"/>
<text transform="translate(116.20 169.50) scale(0.877 1)" x="-0.96" y="0" font-family="Liberation Serif, serif" font-size="18.00" font-style="italic">l</text>
<text transform="translate(122.00 169.50) scale(1.130 1)" x="-0.54" y="0" font-family="Liberation Serif, serif" font-size="18.00" font-style="italic">d</text>
<path d="M142.20 146.10 Q136.10 154.05 136.40 159.05 Q136.10 164.05 142.20 172.00 L141.70 171.70 Q138.80 164.05 138.70 159.05 Q138.80 154.05 141.70 146.40 Z" fill="#000" stroke="#000" stroke-width="0.3"/>
<text transform="translate(144.80 165.00) scale(0.827 1)" x="-0.96" y="0" font-family="Liberation Serif, serif" font-size="26.00" font-style="italic">b</text>
<text transform="translate(157.10 166.00) scale(1.000 1)" x="-1.01" y="0" font-family="Liberation Serif, serif" font-size="26.50">,</text>
<text transform="translate(166.60 165.00) scale(1.157 1)" x="0.32" y="0" font-family="Liberation Serif, serif" font-size="26.00" font-style="italic">x</text>
<path d="M182.00 146.10 Q188.10 154.05 187.80 159.05 Q188.10 164.05 182.00 172.00 L182.50 171.70 Q185.40 164.05 185.50 159.05 Q185.40 154.05 182.50 146.40 Z" fill="#000" stroke="#000" stroke-width="0.3"/>
<line x1="163.90" y1="173.20" x2="197.41" y2="202.83" stroke="#000" stroke-width="1.5"/>
<path d="M202.80 207.60 L191.49 202.27 L196.15 201.72 L196.13 197.03 Z" fill="#000" stroke="#000" stroke-width="0.4" stroke-linejoin="miter"/>
<path d="M421.90 180.60 L430.25 163.40 L432.05 163.40 L440.40 180.60 Z M423.85 178.90 L430.40 167.10 L436.95 178.90 Z" fill="#000" fill-rule="evenodd"/>
<text transform="translate(443.10 185.10) scale(0.877 1)" x="-0.96" y="0" font-family="Liberation Serif, serif" font-size="18.00" font-style="italic">l</text>
<text transform="translate(448.90 185.10) scale(1.130 1)" x="-0.54" y="0" font-family="Liberation Serif, serif" font-size="18.00" font-style="italic">d</text>
<path d="M469.10 161.70 Q463.00 169.65 463.30 174.65 Q463.00 179.65 469.10 187.60 L468.60 187.30 Q465.70 179.65 465.60 174.65 Q465.70 169.65 468.60 162.00 Z" fill="#000" stroke="#000" stroke-width="0.3"/>
<text transform="translate(471.70 180.60) scale(0.827 1)" x="-0.96" y="0" font-family="Liberation Serif, serif" font-size="26.00" font-style="italic">b</text>
<text transform="translate(484.00 181.60) scale(1.000 1)" x="-1.01" y="0" font-family="Liberation Serif, serif" font-size="26.50">,</text>
<text transform="translate(493.50 180.60) scale(1.157 1)" x="0.32" y="0" font-family="Liberation Serif, serif" font-size="26.00" font-style="italic">x</text>
<path d="M508.90 161.70 Q515.00 169.65 514.70 174.65 Q515.00 179.65 508.90 187.60 L509.40 187.30 Q512.30 179.65 512.40 174.65 Q512.30 169.65 509.40 162.00 Z" fill="#000" stroke="#000" stroke-width="0.3"/>
<line x1="416.30" y1="170.70" x2="387.98" y2="156.95" stroke="#000" stroke-width="1.5"/>
<path d="M381.50 153.80 L393.82 155.89 L389.49 157.68 L390.77 162.19 Z" fill="#000" stroke="#000" stroke-width="0.4" stroke-linejoin="miter"/>
<path d="M265.50 239.60 L273.85 222.40 L275.65 222.40 L284.00 239.60 Z M267.45 237.90 L274.00 226.10 L280.55 237.90 Z" fill="#000" fill-rule="evenodd"/>
<path d="M271.65 219.60 L274.75 216.30 L277.85 219.60" fill="none" stroke="#000" stroke-width="1.1" stroke-linejoin="miter"/>
<path d="M304.40 226.70 L304.32 227.74 L304.09 228.67 L303.73 229.42 L303.25 229.95 L302.68 230.25 L302.05 230.35 L301.38 230.26 L300.69 230.04 L299.99 229.71 L299.30 229.30 L298.61 228.83 L297.93 228.33 L297.27 227.80 L296.61 227.25 L295.95 226.70 L295.29 226.15 L294.63 225.60 L293.97 225.07 L293.29 224.57 L292.60 224.10 L291.91 223.69 L291.21 223.36 L290.52 223.14 L289.85 223.05 L289.22 223.15 L288.65 223.45 L288.17 223.98 L287.81 224.73 L287.58 225.66 L287.50 226.70 L287.58 227.74 L287.81 228.67 L288.17 229.42 L288.65 229.95 L289.22 230.25 L289.85 230.35 L290.52 230.26 L291.21 230.04 L291.91 229.71 L292.60 229.30 L293.29 228.83 L293.97 228.33 L294.63 227.80 L295.29 227.25 L295.95 226.70 L296.61 226.15 L297.27 225.60 L297.93 225.07 L298.61 224.57 L299.30 224.10 L299.99 223.69 L300.69 223.36 L301.38 223.14 L302.05 223.05 L302.68 223.15 L303.25 223.45 L303.73 223.98 L304.09 224.73 L304.32 225.66 L304.40 226.70 Z" fill="none" stroke="#000" stroke-width="1.1"/>
<text transform="translate(286.90 246.90) scale(0.873 1)" x="-0.67" y="0" font-family="Liberation Serif, serif" font-size="18.00" font-style="italic">b</text>
<text transform="translate(296.20 246.90) scale(1.218 1)" x="-0.22" y="0" font-family="Liberation Serif, serif" font-size="18.00" font-style="italic">s</text>
<path d="M315.40 220.70 Q309.30 228.65 309.60 233.65 Q309.30 238.65 315.40 246.60 L314.90 246.30 Q312.00 238.65 311.90 233.65 Q312.00 228.65 314.90 221.00 Z" fill="#000" stroke="#000" stroke-width="0.3"/>
<text transform="translate(318.00 239.60) scale(0.827 1)" x="-0.96" y="0" font-family="Liberation Serif, serif" font-size="26.00" font-style="italic">b</text>
<text transform="translate(330.30 240.60) scale(1.000 1)" x="-1.01" y="0" font-family="Liberation Serif, serif" font-size="26.50">,</text>
<text transform="translate(339.80 239.60) scale(1.157 1)" x="0.32" y="0" font-family="Liberation Serif, serif" font-size="26.00" font-style="italic">x</text>
<path d="M355.20 220.70 Q361.30 228.65 361.00 233.65 Q361.30 238.65 355.20 246.60 L355.70 246.30 Q358.60 238.65 358.70 233.65 Q358.60 228.65 355.70 221.00 Z" fill="#000" stroke="#000" stroke-width="0.3"/>
<line x1="263.90" y1="233.00" x2="223.46" y2="218.27" stroke="#000" stroke-width="1.5"/>
<path d="M216.70 215.80 L229.17 216.62 L225.04 218.84 L226.78 223.20 Z" fill="#000" stroke="#000" stroke-width="0.4" stroke-linejoin="miter"/>
<path d="M185.50 278.30 L193.85 261.10 L195.65 261.10 L204.00 278.30 Z M187.45 276.60 L194.00 264.80 L200.55 276.60 Z" fill="#000" fill-rule="evenodd"/>
<path d="M191.65 258.30 L194.75 255.00 L197.85 258.30" fill="none" stroke="#000" stroke-width="1.1" stroke-linejoin="miter"/>
<text transform="translate(206.70 269.40) scale(1.067 1)" x="-0.79" y="0" font-family="Liberation Serif, serif" font-size="18.00">2</text>
<text transform="translate(206.60 285.40) scale(0.873 1)" x="-0.67" y="0" font-family="Liberation Serif, serif" font-size="18.00" font-style="italic">b</text>
<text transform="translate(215.90 285.40) scale(1.218 1)" x="-0.22" y="0" font-family="Liberation Serif, serif" font-size="18.00" font-style="italic">s</text>
<path d="M234.00 259.40 Q227.90 267.35 228.20 272.35 Q227.90 277.35 234.00 285.30 L233.50 285.00 Q230.60 277.35 230.50 272.35 Q230.60 267.35 233.50 259.70 Z" fill="#000" stroke="#000" stroke-width="0.3"/>
<text transform="translate(236.60 278.30) scale(0.827 1)" x="-0.96" y="0" font-family="Liberation Serif, serif" font-size="26.00" font-style="italic">b</text>
<text transform="translate(248.90 279.30) scale(1.000 1)" x="-1.01" y="0" font-family="Liberation Serif, serif" font-size="26.50">,</text>
<text transform="translate(258.40 278.30) scale(1.157 1)" x="0.32" y="0" font-family="Liberation Serif, serif" font-size="26.00" font-style="italic">x</text>
<path d="M273.80 259.40 Q279.90 267.35 279.60 272.35 Q279.90 277.35 273.80 285.30 L274.30 285.00 Q277.20 277.35 277.30 272.35 Q277.20 267.35 274.30 259.70 Z" fill="#000" stroke="#000" stroke-width="0.3"/>
<line x1="184.10" y1="260.20" x2="160.37" y2="243.37" stroke="#000" stroke-width="1.5"/>
<path d="M154.50 239.20 L166.31 243.29 L161.74 244.34 L162.26 249.00 Z" fill="#000" stroke="#000" stroke-width="0.4" stroke-linejoin="miter"/>
<text x="189.9" y="372.6" font-family="Liberation Serif, serif" font-size="25.2" textLength="123.2" lengthAdjust="spacingAndGlyphs">Bandwidth</text>
<text x="321" y="372.6" font-family="Liberation Serif, serif" font-size="25.2" textLength="58.5" lengthAdjust="spacingAndGlyphs">ratio,</text>
<text transform="translate(389.80 372.60) scale(0.896 1)" x="-0.96" y="0" font-family="Liberation Serif, serif" font-size="25.80" font-style="italic">b</text>
<g transform="translate(19.2 0) rotate(-90)">
<text x="-306.3" y="0" font-family="Liberation Serif, serif" font-size="25.2" textLength="111.3" lengthAdjust="spacingAndGlyphs">Distortion</text>
<text x="-185.8" y="0" font-family="Liberation Serif, serif" font-size="25.2" textLength="116.3" lengthAdjust="spacingAndGlyphs">Exponent,</text>
<path d="M-61.50 0.00 L-53.75 -17.50 L-51.95 -17.50 L-44.20 0.00 Z M-59.55 -1.70 L-53.60 -13.80 L-47.65 -1.70 Z" fill="#000" fill-rule="evenodd"/>
</g>
</svg>
</body></html>
